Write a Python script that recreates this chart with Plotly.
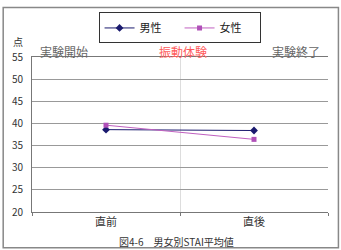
import plotly.graph_objects as go

categories = ["直前", "直後"]
male = [38.6, 38.4]
female = [39.6, 36.4]
y_ticks = [20, 25, 30, 35, 40, 45, 50, 55]
phase_labels = ["実験開始", "振動体験", "実験終了"]
title_text = "図4-6　男女別STAI平均値"

FONT = "Noto Sans CJK JP"

fig = go.Figure()
fig.add_trace(go.Scatter(
    x=categories, y=male, name="男性", mode="lines+markers",
    line=dict(color="#1a1a6e", width=1),
    marker=dict(symbol="diamond", size=6, color="#1a1a6e"),
))
fig.add_trace(go.Scatter(
    x=categories, y=female, name="女性", mode="lines+markers",
    line=dict(color="#c060c0", width=1),
    marker=dict(symbol="square", size=5, color="#b050b8"),
))

L, R, T, B = 30, 13, 52, 38
W, H = 341, 250
pw, ph = W - L - R, H - T - B

def px(xp):
    return (xp - L) / pw

def py(yp):
    return (H - B - yp) / ph

# outer border
fig.add_shape(type="rect", xref="paper", yref="paper",
              x0=px(1), x1=px(338.5), y0=py(249), y1=py(1),
              line=dict(color="#888888", width=1.5), layer="below")

ann_pos = [62, 182, 296]
ann_col = ["#666666", "#ff5a5a", "#666666"]
for t, xp, c in zip(phase_labels, ann_pos, ann_col):
    fig.add_annotation(text=t, xref="paper", yref="paper", x=px(xp), y=py(46),
                       showarrow=False, xanchor="center", yanchor="middle",
                       font=dict(family=FONT, size=12, color=c))

fig.add_annotation(text="点", xref="paper", yref="paper", x=px(16), y=py(36),
                   showarrow=False, xanchor="center", yanchor="middle",
                   font=dict(family=FONT, size=10, color="#333333"))
fig.add_annotation(text=title_text, xref="paper", yref="paper", x=px(175), y=py(242),
                   showarrow=False, xanchor="center", yanchor="middle",
                   font=dict(family=FONT, size=10, color="#333333"))

fig.update_layout(
    width=W, height=H,
    margin=dict(l=L, r=R, t=T, b=B),
    paper_bgcolor="white", plot_bgcolor="white",
    font=dict(family=FONT, size=10, color="#333333"),
    showlegend=True,
    legend=dict(orientation="h", x=px(97), y=py(6), xanchor="left", yanchor="top",
                bordercolor="#333333", borderwidth=1, bgcolor="white",
                font=dict(family=FONT, size=11, color="#222222"),
                entrywidth=35, tracegroupgap=0, itemwidth=30),
    xaxis=dict(type="category", range=[-0.5, 1.5], tickson="boundaries",
               showgrid=True, gridcolor="#dddddd", gridwidth=1,
               showline=True, linecolor="#777777", linewidth=1, mirror=True,
               ticks="outside", ticklen=3, tickcolor="#777777",
               tickfont=dict(family=FONT, size=11, color="#333333"),
               fixedrange=True),
    yaxis=dict(range=[20, 55], tickvals=y_ticks, showgrid=True,
               gridcolor="#999999", gridwidth=1, zeroline=False,
               showline=True, linecolor="#777777", linewidth=1,
               ticks="inside", ticklen=3, tickcolor="#999999",
               ticklabelstandoff=6,
               tickfont=dict(family=FONT, size=10, color="#333333"),
               fixedrange=True),
)

fig.write_html("out.html")
